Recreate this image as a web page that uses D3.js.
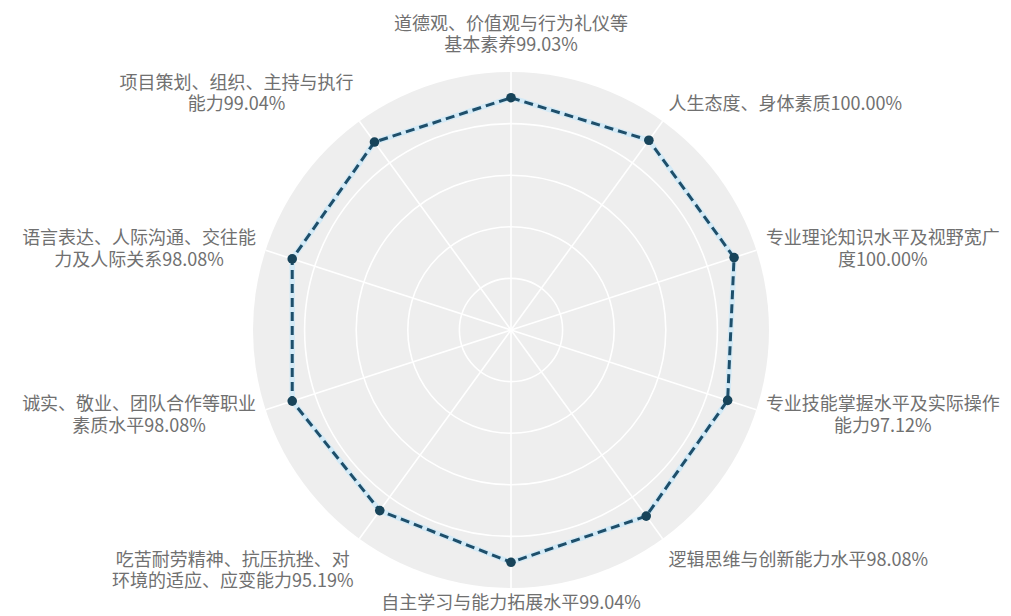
<!DOCTYPE html>
<html>
<head>
<meta charset="utf-8">
<script src="https://cdn.jsdelivr.net/npm/d3@7"></script>
<style>
  html, body { margin: 0; padding: 0; background: #ffffff; }
  svg { display: block; }
</style>
</head>
<body>
<svg id="chart" width="1011" height="616"></svg>
<script>
// ---- data ----
const categories = [
  "道德观、价值观与行为礼仪等\n基本素养",
  "人生态度、身体素质",
  "专业理论知识水平及视野宽广\n度",
  "专业技能掌握水平及实际操作\n能力",
  "逻辑思维与创新能力水平",
  "自主学习与能力拓展水平",
  "吃苦耐劳精神、抗压抗挫、对\n环境的适应、应变能力",
  "诚实、敬业、团队合作等职业\n素质水平",
  "语言表达、人际沟通、交往能\n力及人际关系",
  "项目策划、组织、主持与执行\n能力"
];
const values = [99.03, 100.00, 100.00, 97.12, 98.08, 99.04, 95.19, 98.08, 98.08, 99.04];
const radialTicks = [22, 44, 66, 88];
const radialMax = 110;

// ---- layout ----
const svg = d3.select("#chart");
const cx = 511, cy = 330, R = 258, labelR = 268;
const g = svg.append("g").attr("transform", `translate(${cx},${cy})`);

const angle = d3.scaleLinear().domain([0, categories.length]).range([0, 2 * Math.PI]);
const r = d3.scaleLinear().domain([0, radialMax]).range([0, R]);

// background disk
g.append("circle").attr("r", r(radialMax)).attr("fill", "#eeeeee");

// grid circles
g.selectAll("circle.grid").data(radialTicks).join("circle")
  .attr("class", "grid")
  .attr("r", d => r(d))
  .attr("fill", "none")
  .attr("stroke", "#ffffff")
  .attr("stroke-width", 1.6);

// spokes
g.selectAll("line.spoke").data(categories).join("line")
  .attr("class", "spoke")
  .attr("x1", 0).attr("y1", 0)
  .attr("x2", (d, i) => r(radialMax) * Math.sin(angle(i)))
  .attr("y2", (d, i) => -r(radialMax) * Math.cos(angle(i)))
  .attr("stroke", "#ffffff")
  .attr("stroke-width", 1.6);

// data line
const line = d3.lineRadial()
  .angle((d, i) => angle(i))
  .radius(d => r(d))
  .curve(d3.curveLinearClosed);

g.append("path").datum(values)
  .attr("d", line)
  .attr("fill", "none")
  .attr("stroke", "#d4eaf6")
  .attr("stroke-width", 5.5);

g.append("path").datum(values)
  .attr("d", line)
  .attr("fill", "none")
  .attr("stroke", "#1e4f6b")
  .attr("stroke-width", 3)
  .attr("stroke-dasharray", "9,5");

// markers
g.selectAll("circle.pt").data(values).join("circle")
  .attr("class", "pt")
  .attr("cx", (d, i) => r(d) * Math.sin(angle(i)))
  .attr("cy", (d, i) => -r(d) * Math.cos(angle(i)))
  .attr("r", 4.8)
  .attr("fill", "#18445a");

// labels
const fontSize = 18, lineH = 21.5;
const fontFam = "'Noto Sans CJK SC', 'Noto Sans', sans-serif";
categories.forEach((c, i) => {
  const a = angle(i);
  const s = Math.sin(a), co = Math.cos(a);
  let lr = labelR;
  if (Math.abs(s) < 0.1) lr += co > 0 ? 8 : -8;
  const x = lr * s, y = -lr * co;
  const lines = (c + values[i].toFixed(2) + "%").split("\n");
  const n = lines.length;
  const blockH = n * lineH;
  let top;
  if (Math.abs(co) > 0.7) {
    top = co > 0 ? y - blockH : y;
  } else {
    top = y - blockH / 2;
  }
  const temp = g.append("text").attr("font-family", fontFam).attr("font-size", fontSize);
  let maxW = 0;
  lines.forEach(l => { temp.text(l); maxW = Math.max(maxW, temp.node().getComputedTextLength()); });
  temp.remove();
  let midX;
  if (Math.abs(s) < 0.1) midX = x;
  else if (s > 0) midX = x + maxW / 2;
  else midX = x - maxW / 2;
  const t = g.append("text")
    .attr("font-family", fontFam)
    .attr("font-size", fontSize)
    .attr("fill", "#707070")
    .attr("text-anchor", "middle");
  lines.forEach((l, k) => {
    t.append("tspan")
      .attr("x", midX)
      .attr("y", top + lineH * k + lineH / 2)
      .attr("dominant-baseline", "central")
      .text(l);
  });
});
</script>
</body>
</html>
